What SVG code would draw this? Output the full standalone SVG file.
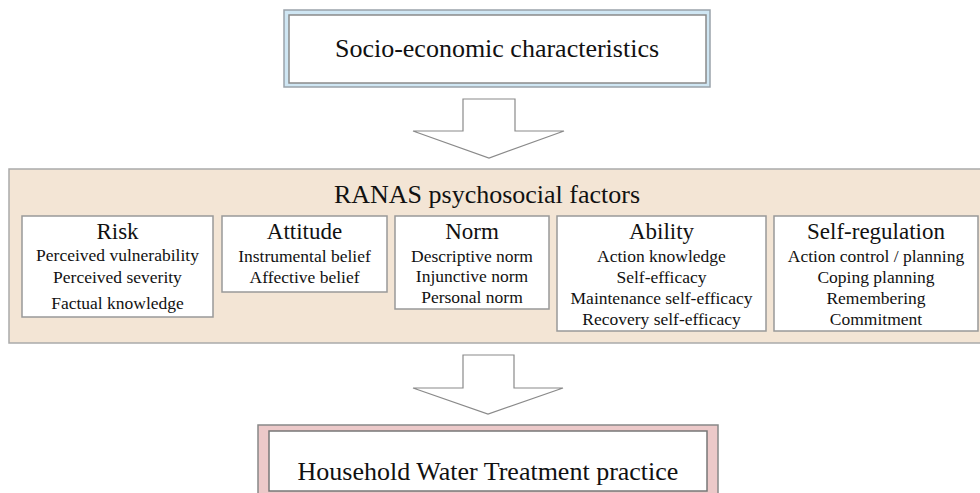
<svg xmlns="http://www.w3.org/2000/svg" width="980" height="493" viewBox="0 0 980 493">
<style>
text{font-family:"Liberation Serif","Times New Roman",serif;fill:#111;text-anchor:middle}
.big{font-size:26px}
.hd{font-size:23px}
.it{font-size:17.5px}
.box{fill:#fff;stroke:#999;stroke-width:1.5}
.arrow{fill:#fff;stroke:#8a8a8a;stroke-width:1.2}
</style>
<rect width="980" height="493" fill="#fff"/>
<g id="socio">
<rect x="284" y="10" width="426" height="77" fill="#cfe6f3" stroke="#9aa3aa" stroke-width="1.5"/>
<rect x="289" y="15" width="417" height="68" fill="#fff" stroke="#8a8a8a" stroke-width="1.5"/>
<text class="big" x="497" y="57">Socio-economic characteristics</text>
</g>
<g id="connectors">
<polygon class="arrow" points="463,99 515,99 515,131 564,131 489,158 413,131 463,131"/>
<polygon class="arrow" points="463,355 514,355 514,388 563,388 488,414 413,388 463,388"/>
</g>
<g id="ranas">
<rect x="9" y="169" width="976" height="174" fill="#f3e5d5" stroke="#aaa" stroke-width="1.5"/>
<text class="big" x="487" y="203">RANAS psychosocial factors</text>
</g>
<g id="risk">
<rect class="box" x="22" y="216" width="191" height="101"/>
<text class="hd" x="117.5" y="239">Risk</text>
<text class="it" x="117.5" y="261">Perceived vulnerability</text>
<text class="it" x="117.5" y="283">Perceived severity</text>
<text class="it" x="117.5" y="309">Factual knowledge</text>
</g>
<g id="attitude">
<rect class="box" x="222" y="216" width="165" height="76"/>
<text class="hd" x="304.5" y="239">Attitude</text>
<text class="it" x="304.5" y="262">Instrumental belief</text>
<text class="it" x="304.5" y="283">Affective belief</text>
</g>
<g id="norm">
<rect class="box" x="395" y="216" width="154" height="93"/>
<text class="hd" x="472" y="239">Norm</text>
<text class="it" x="472" y="262">Descriptive norm</text>
<text class="it" x="472" y="282">Injunctive norm</text>
<text class="it" x="472" y="303">Personal norm</text>
</g>
<g id="ability">
<rect class="box" x="557" y="216" width="209" height="115"/>
<text class="hd" x="661.5" y="239">Ability</text>
<text class="it" x="661.5" y="262">Action knowledge</text>
<text class="it" x="661.5" y="283">Self-efficacy</text>
<text class="it" x="661.5" y="304">Maintenance self-efficacy</text>
<text class="it" x="661.5" y="325">Recovery self-efficacy</text>
</g>
<g id="selfregulation">
<rect class="box" x="774" y="216" width="204" height="115"/>
<text class="hd" x="876" y="239">Self-regulation</text>
<text class="it" x="876" y="262">Action control / planning</text>
<text class="it" x="876" y="283">Coping planning</text>
<text class="it" x="876" y="304">Remembering</text>
<text class="it" x="876" y="325">Commitment</text>
</g>
<g id="hwt">
<rect x="258" y="425" width="460" height="80" fill="#ecc9c9" stroke="#888" stroke-width="1.5"/>
<rect x="269" y="431" width="438" height="60" fill="#fff" stroke="#777" stroke-width="1.5"/>
<text class="big" x="488" y="480">Household Water Treatment practice</text>
</g>
</svg>
